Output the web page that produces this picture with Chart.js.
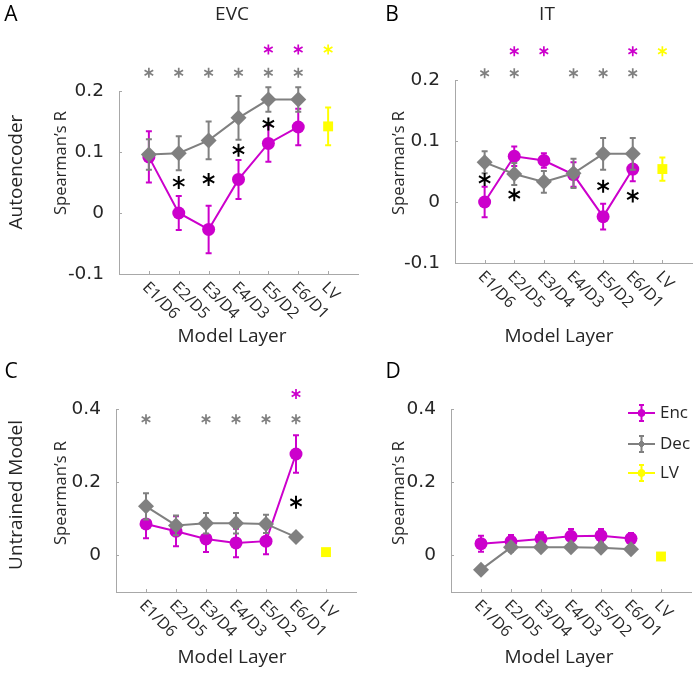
<!DOCTYPE html>
<html>
<head>
<meta charset="utf-8">
<script src="https://cdn.jsdelivr.net/npm/chart.js@4.4.1/dist/chart.umd.min.js"></script>
<style>
  html, body { margin: 0; padding: 0; background: #fff; }
  #wrap { position: relative; width: 700px; height: 673px; overflow: hidden; }
  canvas { position: absolute; left: 0; top: 0; }
</style>
</head>
<body>
<div id="wrap">
  <canvas id="cA" width="700" height="673"></canvas>
  <canvas id="cB" width="700" height="673"></canvas>
  <canvas id="cC" width="700" height="673"></canvas>
  <canvas id="cD" width="700" height="673"></canvas>
</div>
<script>
// ---- data ----
const layerLabels = ["E1/D6", "E2/D5", "E3/D4", "E4/D3", "E5/D2", "E6/D1", "LV"];
const layerX = [1, 2, 3, 4, 5, 6];
const lvX = [7];
const seriesNames = ["Enc", "Dec", "LV"];

const yTicksTop = [-0.1, 0, 0.1, 0.2];
const yTickLabelsTop = ["-0.1", "0", "0.1", "0.2"];
const yTicksBottom = [0, 0.2, 0.4];
const yTickLabelsBottom = ["0", "0.2", "0.4"];

// A: EVC, autoencoder
const encA = [0.092, 0.0, -0.027, 0.055, 0.114, 0.141];
const encErrA = [0.042, 0.028, 0.039, 0.032, 0.03, 0.03];
const decA = [0.096, 0.098, 0.119, 0.156, 0.186, 0.186];
const decErrA = [0.025, 0.028, 0.031, 0.036, 0.02, 0.02];
const lvA = [0.142];
const lvErrA = [0.031];
const decSigA = [1, 2, 3, 4, 5, 6];
const encSigA = [5, 6];
const lvSigA = [7];
const diffSigXA = [2, 3, 4, 5];
const diffSigYA = [0.05, 0.055, 0.103, 0.146];

// B: IT, autoencoder
const encB = [0.0, 0.075, 0.068, 0.045, -0.024, 0.054];
const encErrB = [0.025, 0.016, 0.012, 0.02, 0.021, 0.02];
const decB = [0.065, 0.046, 0.033, 0.047, 0.079, 0.079];
const decErrB = [0.018, 0.018, 0.018, 0.024, 0.026, 0.026];
const lvB = [0.054];
const lvErrB = [0.019];
const decSigB = [1, 2, 4, 5, 6];
const encSigB = [2, 3, 6];
const lvSigB = [7];
const diffSigXB = [1, 2, 5, 6];
const diffSigYB = [0.037, 0.012, 0.026, 0.01];

// C: EVC, untrained
const encC = [0.086, 0.066, 0.045, 0.034, 0.039, 0.277];
const encErrC = [0.039, 0.041, 0.036, 0.039, 0.036, 0.051];
const decC = [0.134, 0.082, 0.088, 0.088, 0.086, 0.05];
const decErrC = [0.036, 0.027, 0.028, 0.028, 0.025, 0.005];
const lvC = [0.009];
const lvErrC = [0.004];
const decSigC = [1, 3, 4, 5, 6];
const encSigC = [6];
const lvSigC = [];
const diffSigXC = [6];
const diffSigYC = [0.145];

// D: IT, untrained
const encD = [0.032, 0.038, 0.045, 0.052, 0.054, 0.046];
const encErrD = [0.022, 0.018, 0.018, 0.02, 0.018, 0.015];
const decD = [-0.039, 0.022, 0.022, 0.022, 0.021, 0.017];
const decErrD = [0.01, 0.012, 0.01, 0.01, 0.01, 0.01];
const lvD = [-0.003];
const lvErrD = [0.004];

// ---- style ----
const FONT = '"Open Sans", "DejaVu Sans", sans-serif';
const TICK_FONT = '"DejaVu Sans", sans-serif';
const MAGENTA = "#cc00cc";
const GRAY = "#808080";
const YELLOW = "#ffff00";
const AXIS = "#a8a8a8";
const INK = "#262626";
const Y_AXIS_W = 60; // room kept for the y tick labels

const pts = (xs, ys) => ys.map((y, i) => ({ x: xs[i], y: y }));

function drawStar(ctx, x, y, r, color, lw) {
  ctx.save();
  ctx.strokeStyle = color;
  ctx.lineWidth = lw;
  ctx.beginPath();
  [90, 30, 150].forEach((a) => {
    const dx = Math.cos((a * Math.PI) / 180) * r;
    const dy = Math.sin((a * Math.PI) / 180) * r;
    ctx.moveTo(x - dx, y + dy);
    ctx.lineTo(x + dx, y - dy);
  });
  ctx.stroke();
  ctx.restore();
}

function drawErrBar(ctx, x, yTop, yBot, color, cap) {
  ctx.save();
  ctx.strokeStyle = color;
  ctx.lineWidth = 2;
  ctx.beginPath();
  ctx.moveTo(x, yTop);
  ctx.lineTo(x, yBot);
  ctx.moveTo(x - cap, yTop);
  ctx.lineTo(x + cap, yTop);
  ctx.moveTo(x - cap, yBot);
  ctx.lineTo(x + cap, yBot);
  ctx.stroke();
  ctx.restore();
}

// error bars drawn right before each dataset's own line and markers
const errorBars = {
  id: "errorBars",
  beforeDatasetDraw(chart, args) {
    const ds = chart.data.datasets[args.index];
    if (!ds.err) return;
    const ctx = chart.ctx;
    const yS = chart.scales.y;
    args.meta.data.forEach((el, i) => {
      const v = ds.data[i].y;
      const e = ds.err[i];
      drawErrBar(ctx, el.x, yS.getPixelForValue(v + e), yS.getPixelForValue(v - e), ds.borderColor, 3);
    });
  },
};

const decorations = {
  id: "decorations",
  afterDraw(chart, args, opts) {
    const ctx = chart.ctx;
    const xS = chart.scales.x;
    const yS = chart.scales.y;
    const area = chart.chartArea;

    // inward tick marks
    ctx.save();
    ctx.strokeStyle = AXIS;
    ctx.lineWidth = 1;
    ctx.beginPath();
    layerLabels.forEach((_, i) => {
      const px = Math.round(xS.getPixelForValue(i + 1)) + 0.5;
      ctx.moveTo(px, area.bottom);
      ctx.lineTo(px, area.bottom - 3);
    });
    opts.yTicks.forEach((v) => {
      const py = Math.round(yS.getPixelForValue(v)) + 0.5;
      ctx.moveTo(area.left, py);
      ctx.lineTo(area.left + 3, py);
    });
    ctx.stroke();
    ctx.restore();

    // rotated category labels
    ctx.save();
    ctx.fillStyle = INK;
    ctx.font = "16px " + FONT;
    ctx.textAlign = "left";
    ctx.textBaseline = "middle";
    layerLabels.forEach((lab, i) => {
      const px = xS.getPixelForValue(i + 1);
      ctx.save();
      ctx.translate(px - 4, area.bottom + 11);
      ctx.rotate(Math.PI / 4);
      ctx.fillText(lab, 0, 0);
      ctx.restore();
    });
    ctx.restore();

    // significance stars
    const s = opts.sig;
    s.dec.forEach((x) => drawStar(ctx, xS.getPixelForValue(x), yS.getPixelForValue(s.decRow), 5, GRAY, 1.7));
    s.enc.forEach((x) => drawStar(ctx, xS.getPixelForValue(x), yS.getPixelForValue(s.encRow), 5, MAGENTA, 1.7));
    s.lv.forEach((x) => drawStar(ctx, xS.getPixelForValue(x), yS.getPixelForValue(s.encRow), 5, YELLOW, 1.7));
    s.diffX.forEach((x, i) => drawStar(ctx, xS.getPixelForValue(x), yS.getPixelForValue(s.diffY[i]), 6.5, "#000", 2));

    // texts
    opts.texts.forEach((t) => {
      ctx.save();
      ctx.fillStyle = t.color || INK;
      ctx.font = t.size + "px " + FONT;
      ctx.textAlign = "center";
      ctx.textBaseline = "middle";
      ctx.translate(t.x, t.y);
      if (t.rot) ctx.rotate(-Math.PI / 2);
      ctx.fillText(t.text, 0, 0);
      ctx.restore();
    });

    // legend
    if (opts.legend) {
      const colors = [MAGENTA, GRAY, YELLOW];
      const styles = ["circle", "rectRot", "circle"];
      opts.legend.forEach((ly, i) => {
        const x0 = 628, x1 = 655, cx = 641.5;
        ctx.save();
        ctx.strokeStyle = colors[i];
        ctx.lineWidth = 2;
        ctx.beginPath();
        ctx.moveTo(x0, ly);
        ctx.lineTo(x1, ly);
        ctx.stroke();
        ctx.restore();
        drawErrBar(ctx, cx, ly - 8, ly + 8, colors[i], 2.5);
        ctx.save();
        ctx.fillStyle = colors[i];
        ctx.strokeStyle = colors[i];
        Chart.helpers.drawPoint(ctx, { pointStyle: styles[i], radius: 3.5, borderWidth: 1 }, cx, ly);
        ctx.restore();
        ctx.save();
        ctx.fillStyle = INK;
        ctx.font = "17px " + FONT;
        ctx.textAlign = "left";
        ctx.textBaseline = "middle";
        ctx.fillText(seriesNames[i], 660, ly);
        ctx.restore();
      });
    }
  },
};

function makePanel(id, cfg) {
  // index 0 is drawn last, so Dec sits above Enc as in the original
  const datasets = [
    {
      label: seriesNames[1],
      data: pts(layerX, cfg.dec),
      err: cfg.decErr,
      borderColor: GRAY,
      backgroundColor: GRAY,
      borderWidth: 2,
      pointStyle: "rectRot",
      pointRadius: 8,
      pointBorderWidth: 0,
    },
    {
      label: seriesNames[0],
      data: pts(layerX, cfg.enc),
      err: cfg.encErr,
      borderColor: MAGENTA,
      backgroundColor: MAGENTA,
      borderWidth: 2,
      pointStyle: "circle",
      pointRadius: 6.5,
      pointBorderWidth: 0,
    },
    {
      label: seriesNames[2],
      data: pts(lvX, cfg.lv),
      err: cfg.lvErr,
      borderColor: YELLOW,
      backgroundColor: YELLOW,
      showLine: false,
      pointStyle: "rect",
      pointRadius: 7,
      pointBorderWidth: 0,
    },
  ];

  const pad = Object.assign({}, cfg.pad, { left: cfg.pad.left - Y_AXIS_W });

  new Chart(document.getElementById(id), {
    type: "line",
    data: { datasets: datasets },
    plugins: [errorBars, decorations],
    options: {
      responsive: false,
      animation: false,
      layout: { padding: pad },
      plugins: {
        legend: { display: false },
        tooltip: { enabled: false },
        decorations: { yTicks: cfg.yTicks, sig: cfg.sig, texts: cfg.texts, legend: cfg.legend },
      },
      scales: {
        x: {
          type: "linear",
          min: 0,
          max: 8,
          grid: { display: false },
          border: { display: true, color: AXIS, width: 1 },
          ticks: { display: false },
          afterFit: (s) => { s.height = 0; },
        },
        y: {
          type: "linear",
          min: cfg.yRange[0],
          max: cfg.yRange[1],
          grid: { display: false },
          border: { display: true, color: AXIS, width: 1 },
          afterBuildTicks: (s) => { s.ticks = cfg.yTicks.map((v) => ({ value: v })); },
          ticks: {
            padding: 7,
            color: INK,
            font: { family: TICK_FONT, size: 18.5 },
            callback: (v, i) => cfg.yTickLabels[i],
          },
          afterFit: (s) => { s.width = Y_AXIS_W; },
        },
      },
    },
  });
}

makePanel("cA", {
  enc: encA, encErr: encErrA, dec: decA, decErr: decErrA, lv: lvA, lvErr: lvErrA,
  yRange: [-0.1, 0.2], yTicks: yTicksTop, yTickLabels: yTickLabelsTop,
  pad: { left: 119, top: 91, right: 342, bottom: 399 },
  sig: { dec: decSigA, enc: encSigA, lv: lvSigA, decRow: 0.23, encRow: 0.268, diffX: diffSigXA, diffY: diffSigYA },
  texts: [
    { text: "A", x: 11, y: 15, size: 21, color: "#000" },
    { text: "EVC", x: 232, y: 15, size: 19 },
    { text: "Autoencoder", x: 17, y: 172, size: 19, rot: true },
    { text: "Spearman\u2019s R", x: 61, y: 163, size: 16.5, rot: true },
    { text: "Model Layer", x: 232, y: 337, size: 19 },
  ],
});

makePanel("cB", {
  enc: encB, encErr: encErrB, dec: decB, decErr: decErrB, lv: lvB, lvErr: lvErrB,
  yRange: [-0.1, 0.2], yTicks: yTicksTop, yTickLabels: yTickLabelsTop,
  pad: { left: 455, top: 80, right: 6, bottom: 410 },
  sig: { dec: decSigB, enc: encSigB, lv: lvSigB, decRow: 0.211, encRow: 0.247, diffX: diffSigXB, diffY: diffSigYB },
  texts: [
    { text: "B", x: 392, y: 15, size: 21, color: "#000" },
    { text: "IT", x: 547, y: 15, size: 19 },
    { text: "Spearman\u2019s R", x: 399, y: 163, size: 16.5, rot: true },
    { text: "Model Layer", x: 559, y: 337, size: 19 },
  ],
});

makePanel("cC", {
  enc: encC, encErr: encErrC, dec: decC, decErr: decErrC, lv: lvC, lvErr: lvErrC,
  yRange: [-0.1, 0.4], yTicks: yTicksBottom, yTickLabels: yTickLabelsBottom,
  pad: { left: 116, top: 409, right: 344, bottom: 81 },
  sig: { dec: decSigC, enc: encSigC, lv: lvSigC, decRow: 0.372, encRow: 0.441, diffX: diffSigXC, diffY: diffSigYC },
  texts: [
    { text: "C", x: 11, y: 372, size: 21, color: "#000" },
    { text: "Untrained Model", x: 17, y: 495, size: 19, rot: true },
    { text: "Spearman\u2019s R", x: 61, y: 493, size: 16.5, rot: true },
    { text: "Model Layer", x: 232, y: 658, size: 19 },
  ],
});

makePanel("cD", {
  enc: encD, encErr: encErrD, dec: decD, decErr: decErrD, lv: lvD, lvErr: lvErrD,
  yRange: [-0.1, 0.4], yTicks: yTicksBottom, yTickLabels: yTickLabelsBottom,
  pad: { left: 451, top: 409, right: 9, bottom: 81 },
  sig: { dec: [], enc: [], lv: [], decRow: 0, encRow: 0, diffX: [], diffY: [] },
  texts: [
    { text: "D", x: 393, y: 372, size: 21, color: "#000" },
    { text: "Spearman\u2019s R", x: 399, y: 493, size: 16.5, rot: true },
    { text: "Model Layer", x: 559, y: 658, size: 19 },
  ],
  legend: [413, 444, 473],
});
</script>
</body>
</html>
